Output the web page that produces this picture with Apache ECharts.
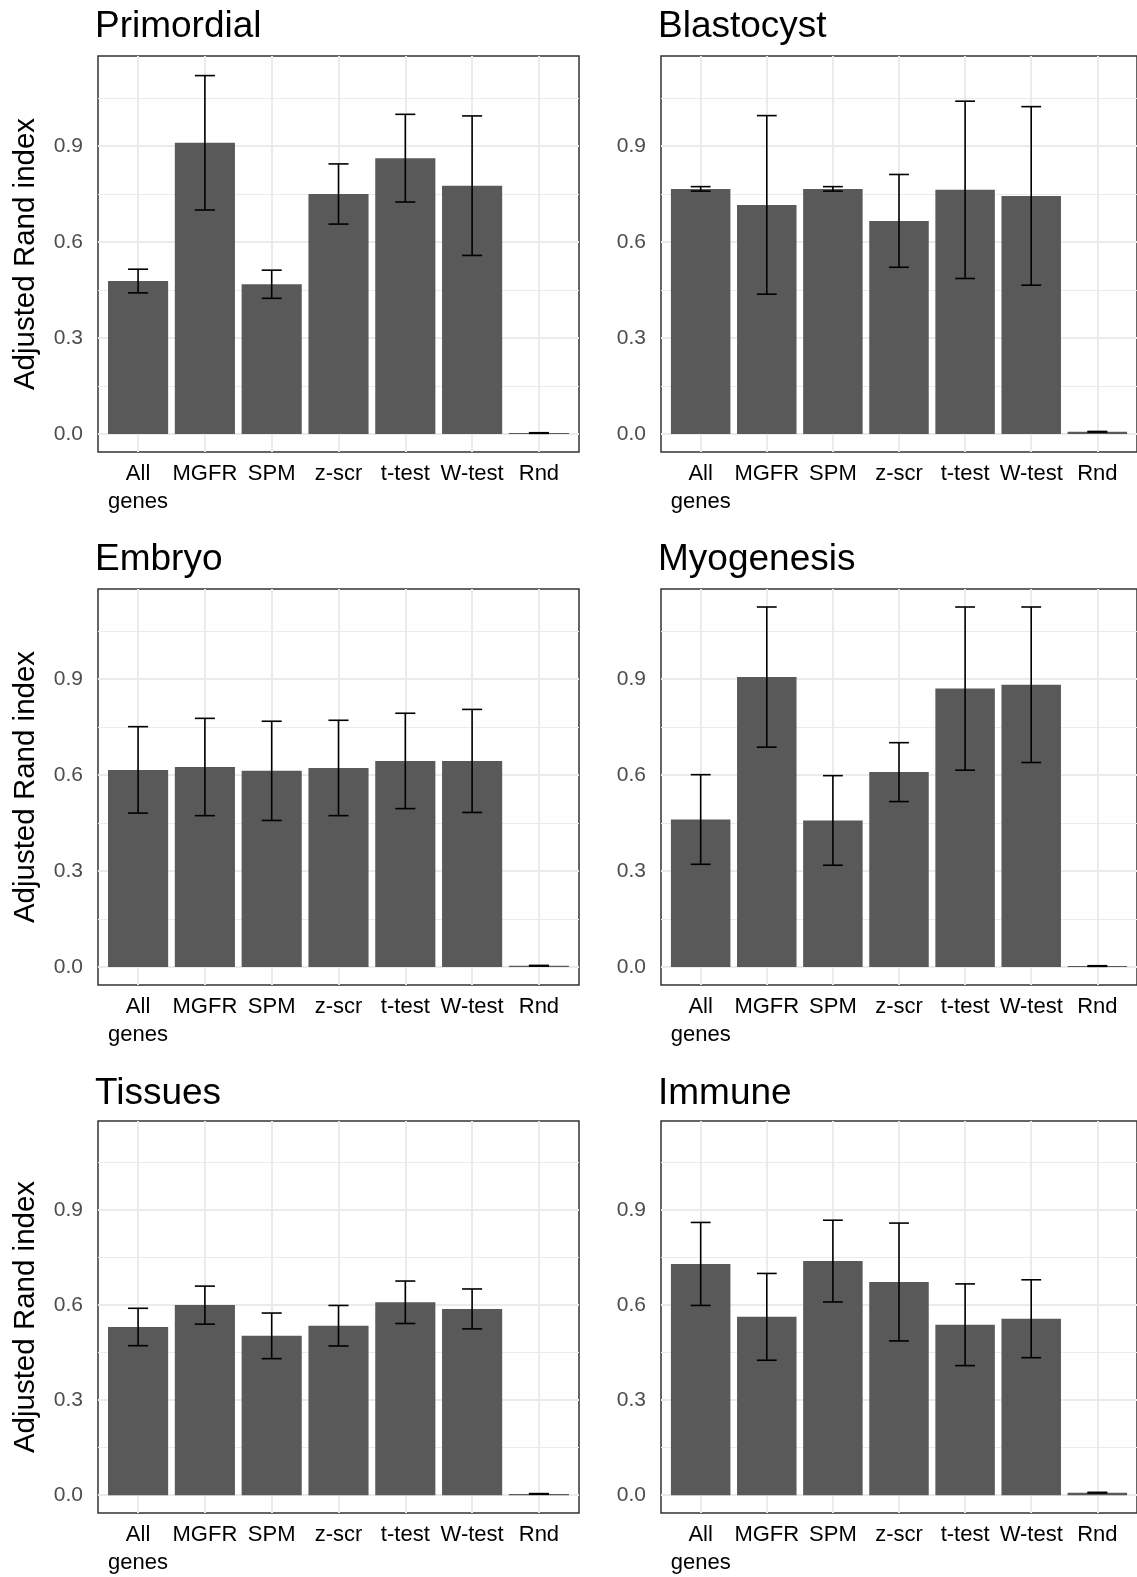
<!DOCTYPE html>
<html>
<head>
<meta charset="utf-8">
<script src="https://cdn.jsdelivr.net/npm/echarts@6/dist/echarts.min.js"></script>
<style>
html,body{margin:0;padding:0;background:#fff;}
#chart{width:1137px;height:1577px;}
</style>
</head>
<body>
<div id="chart"></div>
<script>
// ---- data ----
const categories = ['All\ngenes', 'MGFR', 'SPM', 'z-scr', 't-test', 'W-test', 'Rnd'];
const panelTitles = ['Primordial', 'Blastocyst', 'Embryo', 'Myogenesis', 'Tissues', 'Immune'];

const primordialMean = [0.478, 0.910, 0.468, 0.750, 0.862, 0.776, 0.003];
const primordialSd   = [0.037, 0.210, 0.044, 0.094, 0.137, 0.218, 0.001];
const blastocystMean = [0.766, 0.716, 0.766, 0.666, 0.763, 0.744, 0.007];
const blastocystSd   = [0.007, 0.279, 0.007, 0.145, 0.277, 0.279, 0.001];
const embryoMean     = [0.616, 0.625, 0.613, 0.622, 0.644, 0.644, 0.004];
const embryoSd       = [0.135, 0.152, 0.155, 0.149, 0.149, 0.161, 0.001];
const myogenesisMean = [0.461, 0.906, 0.458, 0.609, 0.870, 0.882, 0.003];
const myogenesisSd   = [0.140, 0.219, 0.140, 0.092, 0.255, 0.243, 0.001];
const tissuesMean    = [0.531, 0.600, 0.503, 0.535, 0.609, 0.588, 0.004];
const tissuesSd      = [0.059, 0.060, 0.072, 0.064, 0.067, 0.063, 0.001];
const immuneMean     = [0.730, 0.563, 0.739, 0.673, 0.538, 0.557, 0.008];
const immuneSd       = [0.131, 0.137, 0.129, 0.186, 0.129, 0.123, 0.001];

const yTicks = [0, 0.3, 0.6, 0.9];
const yMinorTicks = [0.15, 0.45, 0.75, 1.05];
const yTitle = 'Adjusted Rand index';

// ---- layout / style ----
const panelMeans = [primordialMean, blastocystMean, embryoMean, myogenesisMean, tissuesMean, immuneMean];
const panelSds = [primordialSd, blastocystSd, embryoSd, myogenesisSd, tissuesSd, immuneSd];
const colLeft = [98, 661];
const rowTop = [56, 589, 1121];
const titleTop = [8, 541, 1075];
const gridW = 481, gridH = 396;
const FONT = "'Liberation Sans', Arial, Helvetica, sans-serif";
const BAR = '#595959', GRID = '#EBEBEB', BORDER = '#333333';

// shared y-limits like ggplot (fixed scales, 5% expansion)
let yMaxData = 0;
panelMeans.forEach((m, p) => m.forEach((v, i) => { yMaxData = Math.max(yMaxData, v + panelSds[p][i]); }));
const yLo = -0.05 * yMaxData, yHi = 1.05 * yMaxData;
const catIdx = categories.map((c, i) => i);

const grids = [], xAxes = [], yAxes = [], series = [], titles = [];
for (let p = 0; p < 6; p++) {
  const col = p % 2, row = Math.floor(p / 2);
  grids.push({left: colLeft[col], top: rowTop[row], width: gridW, height: gridH,
    show: true, borderColor: BORDER, borderWidth: 1.5, backgroundColor: '#fff', containLabel: false});
  titles.push({text: panelTitles[p], left: colLeft[col] - 3, top: titleTop[row], padding: 0,
    textStyle: {fontFamily: FONT, fontSize: 37, fontWeight: 'normal', color: '#000'}});
  xAxes.push({type: 'value', gridIndex: p, min: -0.6, max: 6.6,
    axisLine: {show: false}, splitLine: {show: false},
    axisTick: {show: true, length: 7, customValues: catIdx, lineStyle: {color: BORDER, width: 1.5}},
    axisLabel: {show: true, customValues: catIdx, margin: 8, fontFamily: FONT, fontSize: 22, color: '#000', lineHeight: 28,
      formatter: v => categories[Math.round(v)] || ''}});
  yAxes.push({type: 'value', gridIndex: p, min: yLo, max: yHi,
    name: col === 0 ? yTitle : '', nameLocation: 'middle', nameGap: 57, nameRotate: 90,
    nameTextStyle: {fontFamily: FONT, fontSize: 29.5, color: '#000'},
    axisLine: {show: false}, splitLine: {show: false},
    axisTick: {show: true, length: 7, customValues: yTicks, lineStyle: {color: BORDER, width: 1.5}},
    axisLabel: {show: true, customValues: yTicks, margin: 15, fontFamily: FONT, fontSize: 21, color: '#4D4D4D',
      formatter: v => v.toFixed(1)}});
  const mean = panelMeans[p], sd = panelSds[p];
  const gridLines = [];
  yMinorTicks.forEach(v => gridLines.push({yAxis: v, lineStyle: {color: GRID, width: 1, type: 'solid'}}));
  yTicks.forEach(v => gridLines.push({yAxis: v, lineStyle: {color: GRID, width: 2, type: 'solid'}}));
  catIdx.forEach(v => gridLines.push({xAxis: v, lineStyle: {color: GRID, width: 2, type: 'solid'}}));
  series.push({
    type: 'custom', xAxisIndex: p, yAxisIndex: p, z: 2, animation: false, silent: true,
    data: categories.map((c, i) => [i, mean[i], sd[i]]),
    encode: {x: 0, y: 1},
    renderItem: function (params, api) {
      const i = api.value(0), m = api.value(1), s = api.value(2);
      const a = api.coord([i - 0.45, m]);
      const b = api.coord([i + 0.45, 0]);
      const top = api.coord([i, m + s]);
      const bot = api.coord([i, m - s]);
      const cl = api.coord([i - 0.15, m])[0];
      const cr = api.coord([i + 0.15, m])[0];
      const ls = {stroke: '#000', lineWidth: 1.6};
      return {type: 'group', children: [
        {type: 'rect', shape: {x: a[0], y: a[1], width: b[0] - a[0], height: b[1] - a[1]}, style: {fill: BAR}},
        {type: 'line', shape: {x1: top[0], y1: top[1], x2: bot[0], y2: bot[1]}, style: ls, z2: 5},
        {type: 'line', shape: {x1: cl, y1: top[1], x2: cr, y2: top[1]}, style: ls, z2: 5},
        {type: 'line', shape: {x1: cl, y1: bot[1], x2: cr, y2: bot[1]}, style: ls, z2: 5}
      ]};
    },
    markLine: {silent: true, symbol: 'none', z: 1, animation: false, label: {show: false},
      emphasis: {disabled: true}, data: gridLines}
  });
}

const chart = echarts.init(document.getElementById('chart'), null, {renderer: 'canvas'});
chart.setOption({
  animation: false,
  backgroundColor: '#fff',
  title: titles,
  grid: grids,
  xAxis: xAxes,
  yAxis: yAxes,
  series: series
});
</script>
</body>
</html>
